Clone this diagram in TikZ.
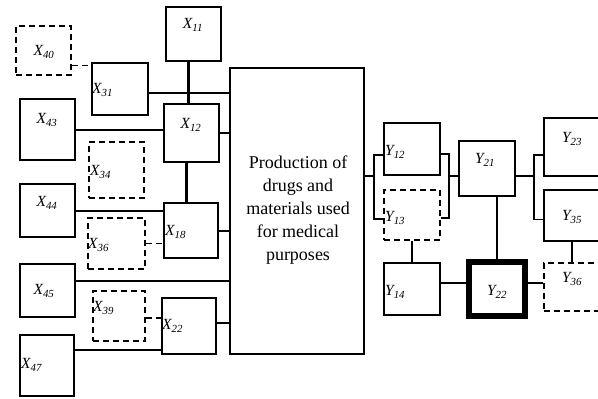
\documentclass[tikz,border=0pt]{standalone}
\usepackage{fontspec}
\setmainfont{Liberation Serif}
\usetikzlibrary{positioning, calc}
\newcommand{\lbl}[2]{\textit{#1\textsubscript{#2}}}

\begin{document}
\begin{tikzpicture}[x=1pt,y=-1pt,
  box/.style={draw, line width=2.8pt, inner sep=0pt},
  dbox/.style={draw, line width=1.8pt, dash pattern=on 6pt off 4pt, inner sep=0pt},
  lab/.style={font=\fontsize{15.5}{17}\selectfont, inner sep=1pt},
  thickc/.style={line width=2pt},
  thinc/.style={line width=1.2pt},
  midc/.style={line width=1.7pt},
  dashc/.style={line width=1.8pt, dash pattern=on 6pt off 4pt}]
\clip (0,0) rectangle (598,399);
\fill[white] (0,0) rectangle (598,399);
% main block
\node[box, minimum width=134pt, minimum height=286pt] (main) at (297,211) {};
\node[font=\fontsize{18}{23}\selectfont, align=center] (maint) at (298,210)
  {Production of\\drugs and\\materials used\\for medical\\purposes};
% left side boxes
\node[dbox, minimum width=55pt, minimum height=49pt] (x40) at (43.5,50.5) {};
\node[box, minimum width=55pt, minimum height=54pt] (x11) at (193.5,34) {};
\node[box, minimum width=56pt, minimum height=52pt] (x31) at (120,89) {};
\node[box, minimum width=55pt, minimum height=61pt] (x43) at (47.5,129.5) {};
\node[box, minimum width=55pt, minimum height=58pt] (x12) at (191.5,133) {};
\node[dbox, minimum width=55pt, minimum height=56pt] (x34) at (116.5,170) {};
\node[box, minimum width=55pt, minimum height=53pt] (x44) at (47.5,210.5) {};
\node[box, minimum width=54pt, minimum height=55pt] (x18) at (191,230.5) {};
\node[dbox, minimum width=57pt, minimum height=51pt] (x36) at (116.5,243.5) {};
\node[box, minimum width=55pt, minimum height=53pt] (x45) at (47.5,290.5) {};
\node[dbox, minimum width=52pt, minimum height=50pt] (x39) at (119,316) {};
\node[box, minimum width=54pt, minimum height=56pt] (x22) at (189,326) {};
\node[box, minimum width=54pt, minimum height=61pt] (x47) at (47,365.5) {};
% labels, left
\node[lab] (x40l) at (44,52) {\lbl{X}{40}};
\node[lab] (x11l) at (193,25) {\lbl{X}{11}};
\node[lab, anchor=west] (x31l) at (91,90) {\lbl{X}{31}};
\node[lab] (x43l) at (47,120) {\lbl{X}{43}};
\node[lab] (x12l) at (191,125) {\lbl{X}{12}};
\node[lab, anchor=west] (x34l) at (89,172) {\lbl{X}{34}};
\node[lab] (x44l) at (47,203) {\lbl{X}{44}};
\node[lab, anchor=west] (x18l) at (164,232) {\lbl{X}{18}};
\node[lab, anchor=west] (x36l) at (87,245) {\lbl{X}{36}};
\node[lab] (x45l) at (44,291) {\lbl{X}{45}};
\node[lab, anchor=west] (x39l) at (92,308) {\lbl{X}{39}};
\node[lab, anchor=west] (x22l) at (161,326) {\lbl{X}{22}};
\node[lab, anchor=west] (x47l) at (20,365) {\lbl{X}{47}};
% right side boxes
\node[box, minimum width=56pt, minimum height=52pt] (y12) at (412,149) {};
\node[dbox, minimum width=56pt, minimum height=50pt] (y13) at (412,215) {};
\node[box, minimum width=56pt, minimum height=52pt] (y14) at (412,289) {};
\node[box, minimum width=56pt, minimum height=55pt] (y21) at (487,168.5) {};
\node[box, line width=6pt, minimum width=56pt, minimum height=54pt] (y22) at (497,289) {};
\node[box, minimum width=56pt, minimum height=58pt] (y23) at (572,147) {};
\node[box, minimum width=56pt, minimum height=51pt] (y35) at (572,215.5) {};
\node[dbox, minimum width=56pt, minimum height=48pt] (y36) at (572,287) {};
% labels, right
\node[lab, anchor=west] (y12l) at (384,152) {\lbl{Y}{12}};
\node[lab, anchor=west] (y13l) at (384,218) {\lbl{Y}{13}};
\node[lab, anchor=west] (y14l) at (384,292) {\lbl{Y}{14}};
\node[lab] (y21l) at (485,160) {\lbl{Y}{21}};
\node[lab] (y22l) at (497,292) {\lbl{Y}{22}};
\node[lab] (y23l) at (572,139) {\lbl{Y}{23}};
\node[lab] (y35l) at (572,217) {\lbl{Y}{35}};
\node[lab] (y36l) at (572,279) {\lbl{Y}{36}};
% connectors, left
\draw[thickc, line width=2.8pt] ([xshift=-5pt]x11.south) -- ([xshift=-5pt]x11.south |- x12.north);
\draw[thickc, line width=2.8pt] ([xshift=-5pt]x12.south) -- ([xshift=-5pt]x12.south |- x18.north);
\coordinate (c31) at ([yshift=-4pt]x31.east);
\draw[thickc] (c31) -- (c31 -| main.west);
\coordinate (c40) at ([yshift=-15pt]x40.east);
\draw[dashc] (c40) -- (c40 -| x31.west);
\draw[thickc] (x43.east) -- (x43.east -| x12.west);
\draw[thickc] (x12.east) -- (x12.east -| main.west);
\draw[thickc] (x44.east) -- (x44.east -| x18.west);
\draw[dashc] (x36.east) -- (x36.east -| x18.west);
\draw[thickc] (x18.east) -- (x18.east -| main.west);
\coordinate (c45) at ([yshift=10pt]x45.east);
\draw[thickc] (c45) -- (c45 -| main.west);
\coordinate (c39) at ([yshift=-2pt]x39.east);
\draw[dashc] (c39) -- (c39 -| x22.west);
\coordinate (c22) at ([yshift=3pt]x22.east);
\draw[thickc] (c22) -- (c22 -| main.west);
\coordinate (c47) at ([yshift=16pt]x47.east);
\draw[thickc] (c47) -- (c47 -| x22.west);
% connectors, right
\coordinate (f1) at (374,176);
\coordinate (f2) at (449,176);
\coordinate (f3) at (534,176);
\draw[thinc] (f1 -| main.east) -- (f1);
\draw[thinc] ([yshift=-6pt]y12.west) -| (f1) |- ([yshift=-4pt]y13.west);
\draw[thinc] ([yshift=-5pt]y12.east) -| (f2) |- ([yshift=-3pt]y13.east);
\draw[thinc] (f2) -- (f2 -| y21.west);
\draw[thinc] (f3 -| y21.east) -- (f3);
\draw[thinc] ([yshift=-8pt]y23.west) -| (f3) |- ([yshift=-4pt]y35.west);
\draw[midc] (y22.north |- y21.south) -- (y22.north);
\draw[midc] (y13.south) -- (y14.north);
\coordinate (c14) at ([yshift=6pt]y14.east);
\draw[midc] (c14) -- (c14 -| y22.west);
\coordinate (c36) at ([yshift=6pt]y22.east);
\draw[midc] (c36) -- (c36 -| y36.west);
\draw[midc] (y35.south) -- (y36.north);
\end{tikzpicture}
\end{document}
